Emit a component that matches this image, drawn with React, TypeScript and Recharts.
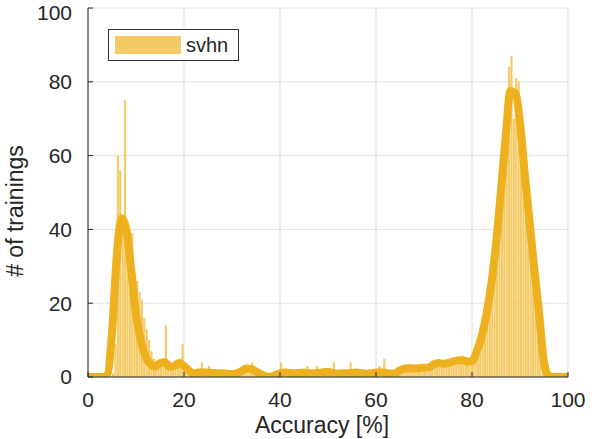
import { ComposedChart, Bar, Line, XAxis, YAxis, CartesianGrid, Legend, Label } from 'recharts'

// histogram counts, 0.5 % bins starting at 0
const histCounts = [
  0, 0, 0, 0, 0, 0, 0, 0, 0, 0,
  1, 9, 60, 56, 42, 75, 35, 33, 39, 28,
  26, 23, 21, 16, 13, 10, 7, 5, 4, 4,
  3, 4, 14, 3, 3, 3, 2, 3, 5, 9,
  3, 2, 2, 1, 1, 1, 2, 4, 2, 1,
  3, 1, 1, 1, 1, 0, 1, 1, 1, 1,
  1, 0, 1, 1, 2, 2, 2, 2, 4, 2,
  1, 1, 1, 0, 0, 1, 0, 1, 1, 1,
  4, 1, 1, 1, 1, 1, 1, 1, 1, 1,
  1, 3, 1, 1, 1, 3, 1, 1, 1, 2,
  2, 1, 4, 1, 1, 1, 1, 1, 1, 4,
  1, 1, 2, 1, 1, 1, 1, 1, 1, 1,
  1, 3, 1, 5, 1, 1, 0, 1, 1, 1,
  2, 2, 3, 2, 2, 3, 2, 2, 3, 3,
  2, 3, 3, 3, 4, 4, 3, 4, 3, 4,
  4, 5, 4, 5, 4, 5, 4, 4, 5, 5,
  4, 6, 8, 10, 13, 15, 19, 22, 27, 31,
  36, 43, 49, 57, 66, 84, 87, 70, 81, 80,
  72, 64, 57, 50, 45, 37, 30, 22, 18, 8,
  1, 0, 0, 0, 0, 0, 0, 0, 0, 0,
]
const binWidth = 0.5

// smoothed density curve, one value per 1 % accuracy (0..100)
const kdeValues = [
  0, 0, 0, 0, 0.5, 12, 33, 43, 40, 29,
  17, 10, 5.5, 3.5, 2.8, 3.8, 4, 2.8, 3, 3.8,
  3, 1.8, 1, 1.2, 1.3, 1.2, 1.1, 1, 1, 0.9,
  0.8, 1, 1.6, 2.3, 2.2, 1.5, 0.8, 0.2, 0, 0.5,
  1, 1.2, 1.1, 1, 1.1, 1.2, 1, 1, 1.1, 1.3,
  1.4, 1.1, 0.9, 1, 1, 1.1, 1.2, 1, 0.9, 1,
  1.2, 1.3, 1.1, 0.9, 1, 1.8, 2.3, 2.4, 2.3, 2.4,
  2.5, 2.6, 3.4, 3.8, 3.6, 3.8, 4.2, 4.5, 4.6, 4.2,
  4.3, 7, 11, 17, 25, 36, 50, 65, 77.5, 77,
  69, 55, 42, 29, 17, 4, 0.3, 0, 0, 0,
  0,
]

const xTicks = [0, 20, 40, 60, 80, 100]
const yTicks = [0, 20, 40, 60, 80, 100]

const histData = histCounts.map((count, i) => ({ x: i * binWidth + binWidth / 2, count }))
const kdeData = kdeValues.map((density, i) => ({ x: i, density }))

const lineColor = '#EDB120'
const barColor = '#F3CA66'
const axisColor = '#262626'

// absolutely positioned so the legend reserves no room in the plot
function LegendBox() {
  return (
    <div
      style={{
        position: 'absolute',
        left: 0,
        top: 0,
        width: 129,
        height: 30,
        border: '1px solid #333',
        background: '#fff',
        display: 'flex',
        alignItems: 'center',
        fontFamily: 'Liberation Sans, Arial, sans-serif',
      }}
    >
      <span style={{ width: 66, height: 18, marginLeft: 6, background: barColor }} />
      <span style={{ fontSize: 20, color: axisColor, marginLeft: 5 }}>svhn</span>
    </div>
  )
}

export default function App() {
  return (
    <div style={{ position: 'absolute', left: 0, top: 0, background: '#fff' }}>
      <ComposedChart
        width={598}
        height={439}
        data={histData}
        margin={{ top: 8, right: 30, left: 0, bottom: 0 }}
        style={{ fontFamily: 'Liberation Sans, Arial, sans-serif' }}
      >
        <CartesianGrid stroke="#dfdfdf" />
        <XAxis
          type="number"
          dataKey="x"
          domain={[0, 100]}
          ticks={xTicks}
          allowDataOverflow
          height={62}
          stroke={axisColor}
          tickSize={-5}
          tickMargin={20}
          tick={{ fill: axisColor, fontSize: 21 }}
        >
          <Label
            content={() => (
              <text x={322} y={433} textAnchor="middle" fill={axisColor} fontSize={23}>
                Accuracy [%]
              </text>
            )}
          />
        </XAxis>
        {/* separate hidden axis for the density curve so it doesn't shrink the bar band */}
        <XAxis xAxisId="kde" type="number" dataKey="x" domain={[0, 100]} allowDataOverflow hide />
        <YAxis
          type="number"
          domain={[0, 100]}
          ticks={yTicks}
          allowDataOverflow
          width={88}
          stroke={axisColor}
          tickSize={-5}
          tickMargin={21}
          tick={{ fill: axisColor, fontSize: 21 }}
        >
          <Label
            content={() => (
              <text
                x={23}
                y={211}
                transform="rotate(-90 23 211)"
                textAnchor="middle"
                fill={axisColor}
                fontSize={23}
              >
                # of trainings
              </text>
            )}
          />
        </YAxis>
        <Legend
          content={() => <LegendBox />}
          wrapperStyle={{ top: 29, left: 108, width: 0, height: 0 }}
        />
        <Bar
          dataKey="count"
          name="svhn"
          fill={barColor}
          barSize={2.4}
          isAnimationActive={false}
        />
        <Line
          xAxisId="kde"
          data={kdeData}
          dataKey="density"
          type="monotone"
          stroke={lineColor}
          strokeWidth={8}
          dot={false}
          legendType="none"
          strokeLinejoin="round"
          isAnimationActive={false}
        />
      </ComposedChart>
    </div>
  )
}
